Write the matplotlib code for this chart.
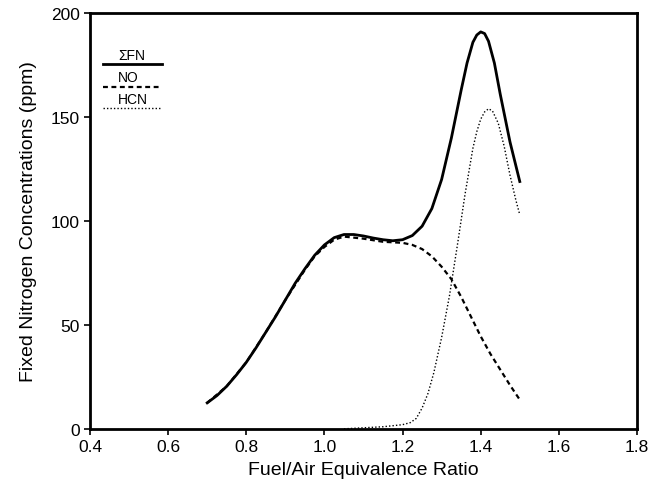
import matplotlib
matplotlib.use("Agg")
import matplotlib.pyplot as plt

# Data
fn_x = [0.70, 0.725, 0.75, 0.775, 0.80, 0.825, 0.85, 0.875, 0.90, 0.925, 0.95, 0.975,
        1.00, 1.025, 1.05, 1.075, 1.10, 1.125, 1.15, 1.175, 1.20, 1.225, 1.25,
        1.275, 1.30, 1.325, 1.35, 1.365, 1.38, 1.39, 1.40, 1.41, 1.42, 1.435,
        1.45, 1.475, 1.50]
fn_y = [12.5, 16, 20.5, 26, 32, 39, 46.5, 54, 62, 70, 77, 83.5,
        88.5, 92, 93.5, 93.5, 92.8, 91.8, 91, 90.5, 91, 93, 97.5,
        106, 120, 140, 163, 176, 186, 189.5, 191, 190.2, 186.5, 176,
        161, 138, 119]

no_x = [0.70, 0.75, 0.80, 0.85, 0.90, 0.95, 0.975, 1.00, 1.025, 1.05, 1.10, 1.15,
        1.20, 1.225, 1.25, 1.275, 1.30, 1.325, 1.35, 1.375, 1.40, 1.425, 1.45,
        1.475, 1.50]
no_y = [12.5, 20.5, 32, 46.5, 62, 76.5, 83, 87.5, 91, 92.5, 91.5, 90,
        89.5, 88.5, 86.5, 83, 78, 72, 63.5, 54, 44.5, 36, 28.5,
        21, 14]

hcn_x = [1.05, 1.10, 1.15, 1.20, 1.22, 1.235, 1.25, 1.265, 1.28, 1.30, 1.32, 1.34,
         1.36, 1.38, 1.39, 1.40, 1.41, 1.42, 1.43, 1.445, 1.46, 1.475, 1.49, 1.50]
hcn_y = [0, 0.5, 1, 2, 3, 5, 10, 17, 27, 44, 64, 88,
         113, 135, 143, 149, 152.5, 154, 153, 147, 136, 122, 110, 103]

x_ticks = [0.4, 0.6, 0.8, 1.0, 1.2, 1.4, 1.6, 1.8]
y_ticks = [0, 50, 100, 150, 200]

plt.rcParams['font.family'] = ['Liberation Sans', 'DejaVu Sans']

fig = plt.figure(figsize=(6.52, 4.89), dpi=100)
ax = fig.add_axes([0.138, 0.121, 0.839, 0.850])

ax.plot(no_x, no_y, color='black', lw=1.6, ls=(0, (2.2, 1.6)), zorder=2)
ax.plot(hcn_x, hcn_y, color='black', lw=1.0, ls=(0, (1, 1.5)), zorder=2)
ax.plot(fn_x, fn_y, color='black', lw=2.0, zorder=3, solid_joinstyle='round')

ax.set_xlim(0.4, 1.8)
ax.set_ylim(0, 200)
ax.set_xticks(x_ticks)
ax.set_xticklabels([f"{v:.1f}" for v in x_ticks])
ax.set_yticks(y_ticks)
ax.tick_params(direction='out', length=4, width=1.2, labelsize=12.5)
for s in ax.spines.values():
    s.set_linewidth(2)

ax.set_xlabel("Fuel/Air Equivalence Ratio", fontsize=14, labelpad=5)
ax.set_ylabel("Fixed Nitrogen Concentrations (ppm)", fontsize=14, labelpad=10)

# Legend drawn as in the original: label above each line sample
leg = [("\u03a3FN", '-', 2.0, 0.900, 0.877),
       ("NO", (0, (2.2, 1.6)), 1.6, 0.846, 0.822),
       ("HCN", (0, (1, 1.5)), 1.0, 0.793, 0.772)]
for label, ls, lw, ty, ly in leg:
    ax.text(0.051, ty, label, transform=ax.transAxes, fontsize=10,
            ha='left', va='center')
    ax.plot([0.024, 0.132], [ly, ly], transform=ax.transAxes, color='black',
            ls=ls, lw=lw)

fig.savefig("out.png", dpi=100)
